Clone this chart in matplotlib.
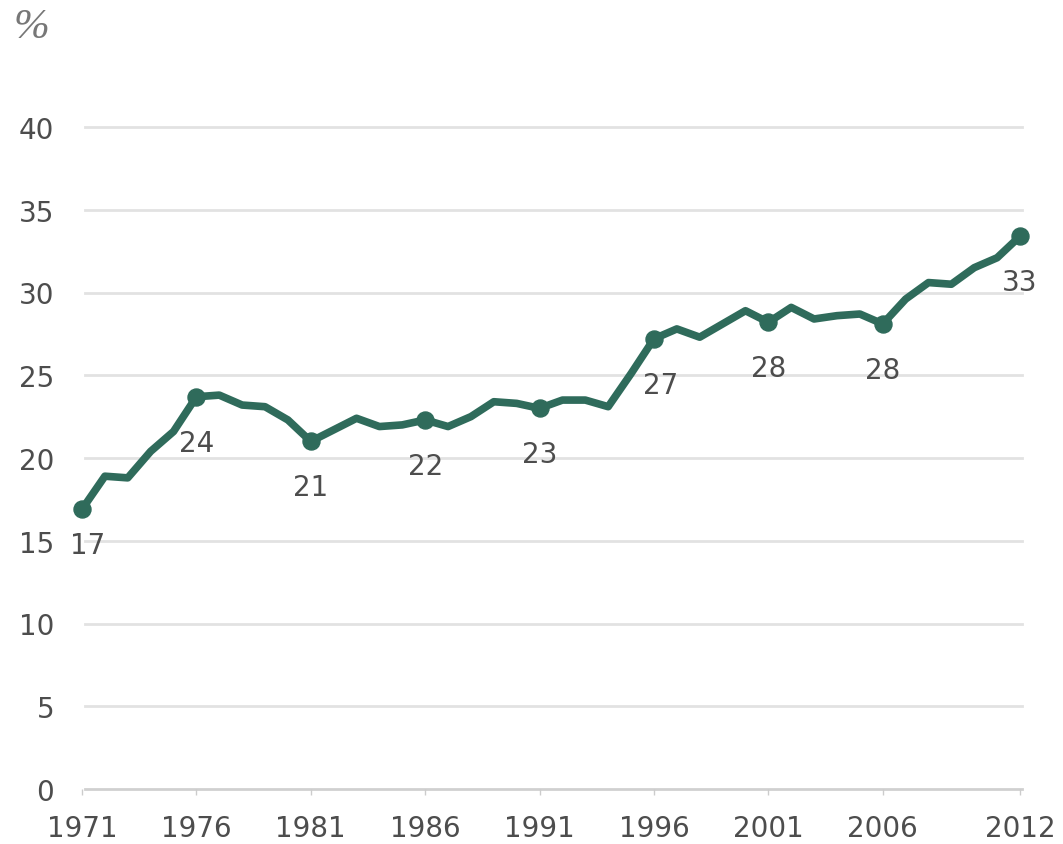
import matplotlib
matplotlib.use("Agg")
import matplotlib.pyplot as plt
import numpy as np

# Annual share, percent
years = list(range(1971, 2013))
values = [16.9, 18.9, 18.8, 20.4, 21.6, 23.7, 23.8, 23.2, 23.1, 22.3,
          21.0, 21.7, 22.4, 21.9, 22.0, 22.3, 21.9, 22.5, 23.4, 23.3,
          23.0, 23.5, 23.5, 23.1, 25.1, 27.2, 27.8, 27.3, 28.1, 28.9,
          28.2, 29.1, 28.4, 28.6, 28.7, 28.1, 29.6, 30.6, 30.5, 31.5,
          32.1, 33.4]

labeled_years = [1971, 1976, 1981, 1986, 1991, 1996, 2001, 2006, 2012]
xtick_years = [1971, 1976, 1981, 1986, 1991, 1996, 2001, 2006, 2012]
yticks = [0, 5, 10, 15, 20, 25, 30, 35, 40]

line_color = "#2f6b5b"
text_color = "#4d4d4d"

fig = plt.figure(figsize=(10.63, 8.45), dpi=100)
ax = fig.add_axes([82 / 1063, 55 / 845, (1020 - 82) / 1063, (790 - 128) / 845])
ax.set_xlim(1971, 2012)
ax.set_ylim(0, 40)

for s in ax.spines.values():
    s.set_visible(False)

# horizontal gridlines
for y in yticks:
    ax.axhline(y, xmin=0.003, xmax=1.002, color="#d0d0d0" if y == 0 else "#e2e2e2",
               lw=2, zorder=1, clip_on=False)

ax.plot(years, values, color=line_color, lw=5.5, solid_joinstyle="round",
        solid_capstyle="round", zorder=3, clip_on=False)

lx = labeled_years
ly = [values[years.index(y)] for y in lx]
ax.scatter(lx, ly, s=150, color=line_color, zorder=4, clip_on=False)

for x, v in zip(lx, ly):
    dx, dy = 0, -33
    if x == 1971:
        dx, dy = 4, -26
    elif x == 1996:
        dx = 5
    ax.annotate(f"{round(v)}", (x, v), xytext=(dx, dy), textcoords="offset points",
                ha="center", va="center", fontsize=20, color=text_color,
                family="DejaVu Sans")

ax.set_yticks(yticks)
ax.set_yticklabels([str(y) for y in yticks])
ax.set_xticks(xtick_years)
ax.set_xticklabels([str(y) for y in xtick_years])
ax.tick_params(axis="y", length=0, pad=20, labelsize=20, labelcolor=text_color)
ax.tick_params(axis="x", length=4, width=1, color="#cccccc", pad=14, labelsize=20,
               labelcolor=text_color)
for lab in ax.get_xticklabels() + ax.get_yticklabels():
    lab.set_family("DejaVu Sans")

fig.text(14 / 1063, 1 - 28 / 845, "%", fontsize=31, style="italic",
         family="Liberation Serif", color="#777777", ha="left", va="center")

fig.savefig("out.png", dpi=100, facecolor="white")
